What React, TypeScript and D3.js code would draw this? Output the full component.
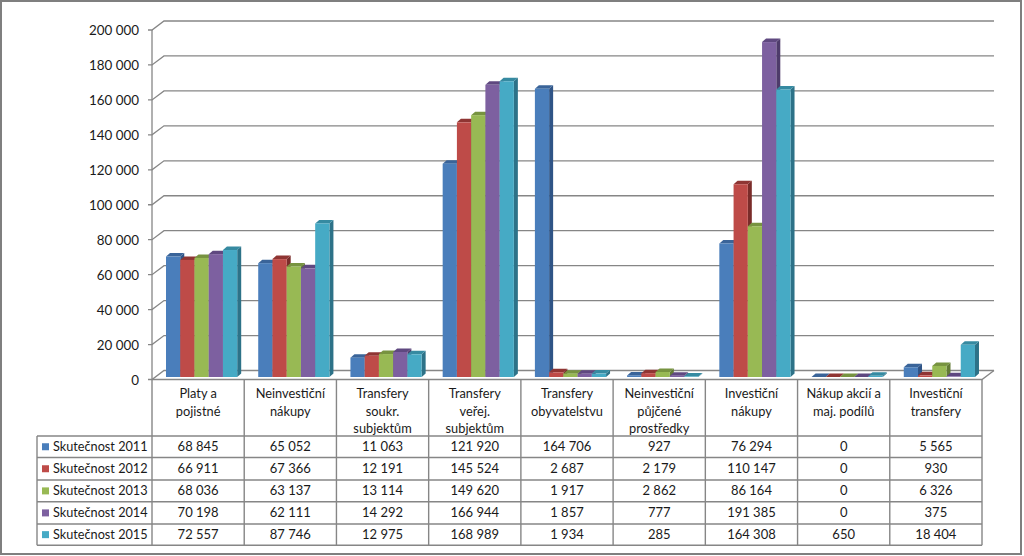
import React from "react";
import * as d3 from "d3";

const categories: string[][] = [
  ["Platy a", "pojistné"],
  ["Neinvestiční", "nákupy"],
  ["Transfery", "soukr.", "subjektům"],
  ["Transfery", "veřej.", "subjektům"],
  ["Transfery", "obyvatelstvu"],
  ["Neinvestiční", "půjčené", "prostředky"],
  ["Investiční", "nákupy"],
  ["Nákup akcií a", "maj. podílů"],
  ["Investiční", "transfery"],
];
const seriesNames = ["Skutečnost 2011", "Skutečnost 2012", "Skutečnost 2013", "Skutečnost 2014", "Skutečnost 2015"];
const s2011 = [68845, 65052, 11063, 121920, 164706, 927, 76294, 0, 5565];
const s2012 = [66911, 67366, 12191, 145524, 2687, 2179, 110147, 0, 930];
const s2013 = [68036, 63137, 13114, 149620, 1917, 2862, 86164, 0, 6326];
const s2014 = [70198, 62111, 14292, 166944, 1857, 777, 191385, 0, 375];
const s2015 = [72557, 87746, 12975, 168989, 1934, 285, 164308, 650, 18404];
const allSeries = [s2011, s2012, s2013, s2014, s2015];
const front = ["#4a7ebb", "#be4b48", "#98b954", "#7d60a0", "#46aac5"];
const topC = ["#3a6499", "#8f3533", "#779340", "#5f4880", "#368aa1"];
const side = ["#2f5486", "#7a2c2a", "#627a34", "#4e3b6b", "#2d7288"];
const ticks = d3.range(0, 200001, 20000);

const fmt = (v: number) => {
  const s = String(v);
  return s.length > 3 ? s.slice(0, -3) + " " + s.slice(-3) : s;
};

const FONT = "Lato, 'Open Sans', sans-serif";
const GRID = "#868686";
const DX = 12, DY = 9;
const BDX = 4, BDY = 3.5;

export default function App() {
  const x = d3.scaleBand<number>().domain(d3.range(9)).range([152, 982]);
  const groupInner = d3.scaleBand<number>().domain(d3.range(5)).range([14, 85.2]);
  const yFront = d3.scaleLinear().domain([0, 200000]).range([379.5, 30]);
  const yBar = d3.scaleLinear().domain([0, 200000]).range([377, 27]);
  const rows = [436, 457.5, 480, 501.8, 524, 545.3];
  const y = (v: number) => yFront(v);
  return (
    <svg width={1024} height={556} style={{ position: "absolute", left: 0, top: 0, fontFamily: FONT }}>
      <rect x={0} y={0} width={1024} height={556} fill="#fff" />
      <rect x={1} y={1} width={1020} height={553} fill="#fff" stroke="#7f7f7f" strokeWidth={2} />

      {/* walls and gridlines */}
      {ticks.map((t) => (
        <g key={t} stroke={GRID} strokeWidth={1.3} fill="none">
          <path d={`M148,${y(t)}H152L${152 + DX},${y(t) - DY}H${982 + DX}`} />
        </g>
      ))}
      <path d={`M152,${y(0)}H982L${982 + DX},${y(0) - DY}`} fill="none" stroke={GRID} strokeWidth={1.3} />
      <line x1={152} x2={152} y1={y(200000)} y2={y(0)} stroke={GRID} strokeWidth={1.3} />

      {/* bars */}
      {categories.map((_, c) =>
        allSeries.map((vals, s) => {
          const x0 = x(c)! + groupInner(s)!;
          const w = groupInner.bandwidth();
          const top = yBar(vals[c]);
          const base = yBar(0);
          return (
            <g key={`${c}-${s}`}>
              <path d={`M${x0 + w},${top}l${BDX},${-BDY}V${base - BDY}l${-BDX},${BDY}Z`} fill={side[s]} />
              <path d={`M${x0},${top}l${BDX},${-BDY}h${w}l${-BDX},${BDY}Z`} fill={topC[s]} />
              <rect x={x0} y={top} width={w} height={base - top} fill={front[s]} />
            </g>
          );
        })
      )}

      {/* y-axis labels */}
      {ticks.map((t) => (
        <text key={t} x={139} y={y(t) + 5} textAnchor="end" fontSize={13.4} fill="#1a1a1a">
          {fmt(t)}
        </text>
      ))}

      {/* table */}
      <g stroke={GRID} strokeWidth={1.4} fill="none">
        {rows.map((r) => (
          <line key={r} x1={37} x2={982} y1={r} y2={r} />
        ))}
        <line x1={37} x2={37} y1={rows[0]} y2={rows[5]} />
        {d3.range(10).map((i) => {
          const xx = i === 9 ? 982 : x(i)!;
          return <line key={i} x1={xx} x2={xx} y1={y(0)} y2={rows[5]} />;
        })}
      </g>
      {categories.map((lines, c) =>
        lines.map((ln, i) => (
          <text key={i} x={x(c)! + x.bandwidth() / 2} y={398 + i * 17.5} textAnchor="middle" fontSize={12.8} fill="#1a1a1a">
            {ln}
          </text>
        ))
      )}
      {seriesNames.map((n, s) => {
        const cy = (rows[s] + rows[s + 1]) / 2;
        return (
          <g key={n}>
            <rect x={42} y={cy - 3.5} width={7} height={7} fill={front[s]} />
            <text x={53} y={cy + 4.5} fontSize={12.7} fill="#1a1a1a">
              {n}
            </text>
            {allSeries[s].map((v, c) => (
              <text key={c} x={x(c)! + x.bandwidth() / 2} y={cy + 4.5} textAnchor="middle" fontSize={13} fill="#1a1a1a">
                {fmt(v)}
              </text>
            ))}
          </g>
        );
      })}
    </svg>
  );
}
